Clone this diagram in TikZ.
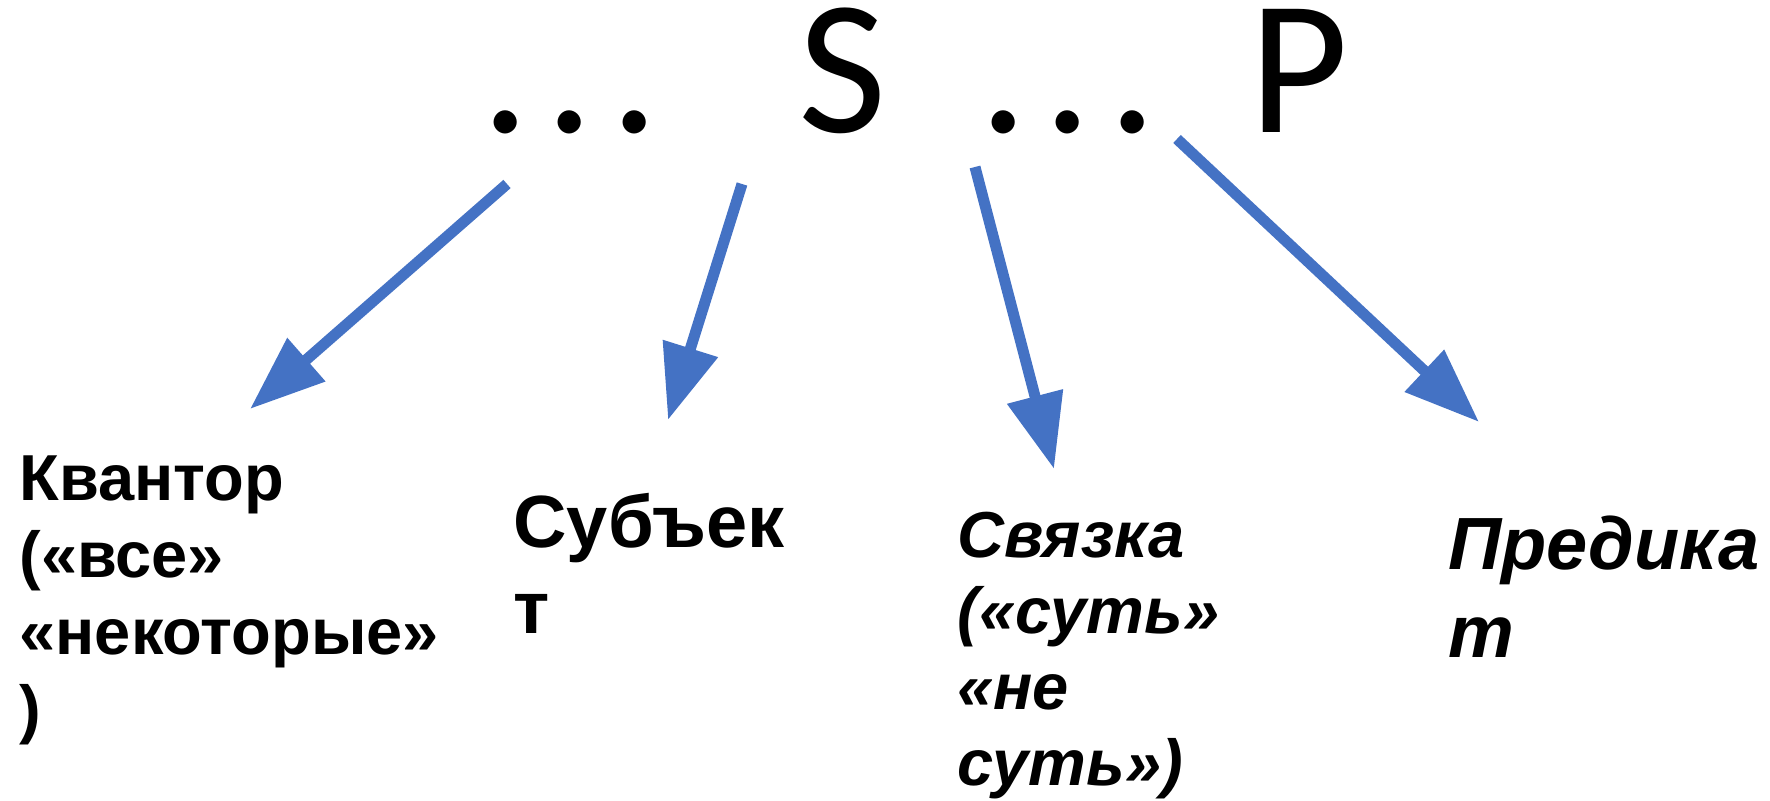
\documentclass[tikz,border=0pt]{standalone}
\usepackage{fontspec}
\setmainfont{Liberation Sans}
\newfontfamily\calibri{Carlito}
\usetikzlibrary{arrows.meta,positioning}
\definecolor{arColor}{HTML}{4472C4}
\newcommand{\trd}{.\kern8pt.\kern8pt.}
\tikzset{
	word/.style={anchor=base west, inner sep=0, text=black, font=\calibri\fontsize{96}{110}\selectfont},
	lab/.style={anchor=north west, inner sep=0, text=black, align=left, font=\fontsize{32.5}{38.5}\selectfont\bfseries},
	biglab/.style={lab, font=\fontsize{37}{43}\selectfont\bfseries},
	itlab/.style={lab, font=\fontsize{32.5}{38}\selectfont\bfseries\itshape},
	bigitlab/.style={lab, font=\fontsize{37}{44}\selectfont\bfseries\itshape}
}

\begin{document}
\begin{tikzpicture}[x=0.5pt, y=-0.5pt, ->, >={Triangle[length=37.5pt,width=27.5pt]},
				line width=5.5pt, arColor]
				\useasboundingbox (0,0) rectangle (1770,801);
				% top line
				\node[word] (d1) at (476,133) {\trd};
				\node[word] (s) at (793,133) {S};
				\node[word] (d2) at (974,133) {\trd};
				\node[word] (p) at (1244,133) {P};
				
				% labels
				\node[lab] (kv) at (14,450) {Квантор\\(«все»\\«некоторые»\\)};
				\node[biglab] (sb) at (508,488) {Субъек\\т};
				\node[itlab] (sv) at (952,507) {Связка\\(«суть»\\«не\\суть»)};
				\node[bigitlab] (pr) at (1443,510) {Предика\\т};
				
				% arrow ends
				\coordinate (q1) at (507,184);
				\coordinate (q2) at (742,184);
				\coordinate (q3) at (975,167);
				\coordinate (q4) at (1177,139);
				\coordinate (e1) at (250,409);
				\coordinate (e2) at (668,420);
				\coordinate (e3) at (1054,469);
				\coordinate (e4) at (1479,422);
				
				\path (q1) edge (e1);
				\path (q2) edge (e2);
				\path (q3) edge (e3);
				\path (q4) edge (e4);
			\end{tikzpicture}
\end{document}
